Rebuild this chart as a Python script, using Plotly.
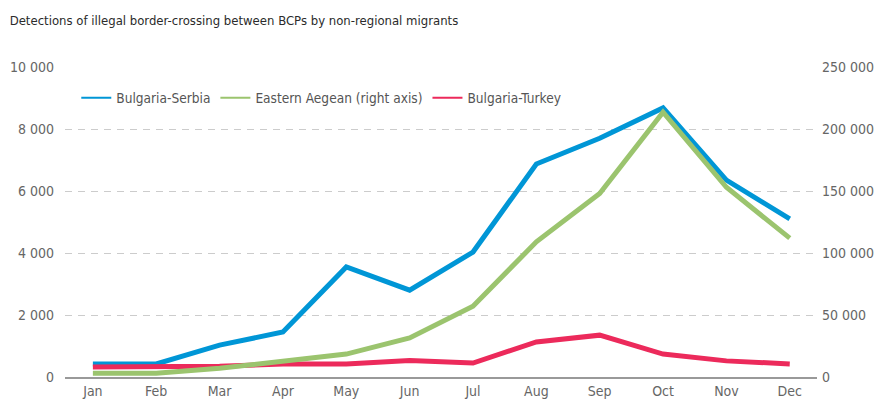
import plotly.graph_objects as go

months = ["Jan", "Feb", "Mar", "Apr", "May", "Jun", "Jul", "Aug", "Sep", "Oct", "Nov", "Dec"]
bulgaria_serbia = [420, 420, 1030, 1450, 3550, 2800, 4030, 6870, 7700, 8680, 6350, 5100]
eastern_aegean = [3000, 3000, 7000, 13000, 18500, 31500, 57000, 109000, 148000, 213500, 153000, 112000]
bulgaria_turkey = [320, 320, 350, 420, 420, 530, 450, 1130, 1350, 740, 520, 420]

left_ticks = [0, 2000, 4000, 6000, 8000, 10000]
left_labels = ["0", "2 000", "4 000", "6 000", "8 000", "10 000"]
right_ticks = [0, 50000, 100000, 150000, 200000, 250000]
right_labels = ["0", "50 000", "100 000", "150 000", "200 000", "250 000"]

title = "Detections of illegal border-crossing between BCPs by non-regional migrants"
names = ["Bulgaria-Serbia", "Eastern Aegean (right axis)", "Bulgaria-Turkey"]
colors = ["#0096D6", "#9BC46E", "#EC2A5B"]

FONT = "Liberation Sans Narrow, DejaVu Sans Condensed, Arial Narrow, sans-serif"

fig = go.Figure()
fig.add_trace(go.Scatter(x=months, y=bulgaria_serbia, mode="lines", name=names[0],
                         line=dict(color=colors[0], width=5), showlegend=False))
fig.add_trace(go.Scatter(x=months, y=eastern_aegean, mode="lines", name=names[1], yaxis="y2",
                         line=dict(color=colors[1], width=5), showlegend=False))
fig.add_trace(go.Scatter(x=months, y=bulgaria_turkey, mode="lines", name=names[2],
                         line=dict(color=colors[2], width=5), showlegend=False))
# legend entries with thin sample lines
for n, c in zip(names, colors):
    fig.add_trace(go.Scatter(x=[None], y=[None], mode="lines", name=n,
                             line=dict(color=c, width=2), showlegend=True))

fig.update_layout(
    width=878, height=408,
    margin=dict(l=65, r=61, t=67, b=31, autoexpand=False),
    paper_bgcolor="white", plot_bgcolor="white",
    font=dict(family=FONT, size=14, color="#666666"),
    title=dict(text=title, x=0.011, xanchor="left", y=0.95, yanchor="middle",
               font=dict(family=FONT, size=13, color="#2b2b2b"), automargin=False),
    showlegend=True,
    legend=dict(orientation="h", x=0.015, xanchor="left", y=0.9, yanchor="middle",
                font=dict(family=FONT, size=13.6, color="#555555"),
                bgcolor="rgba(0,0,0,0)", itemwidth=30, tracegroupgap=0),
    xaxis=dict(range=[-0.44, 11.43], showgrid=False, zeroline=False, automargin=False,
               showline=True, linecolor="#999999", linewidth=1.5,
               ticks="", tickfont=dict(size=14, color="#666666")),
    yaxis=dict(range=[0, 10000], tickvals=left_ticks, ticktext=left_labels, automargin=False,
               showgrid=True, gridcolor="#cccccc", griddash="7px,6px", gridwidth=1,
               zeroline=False, showline=False, ticks="", ticklabelstandoff=10),
    yaxis2=dict(range=[0, 250000], tickvals=right_ticks, ticktext=right_labels, automargin=False,
                overlaying="y", side="right", showgrid=False, zeroline=False,
                showline=False, ticks="", ticklabelstandoff=4),
)

fig.write_html("out.html", config={"displayModeBar": False},
               post_script="document.body.style.margin='0';document.body.style.padding='0';")
